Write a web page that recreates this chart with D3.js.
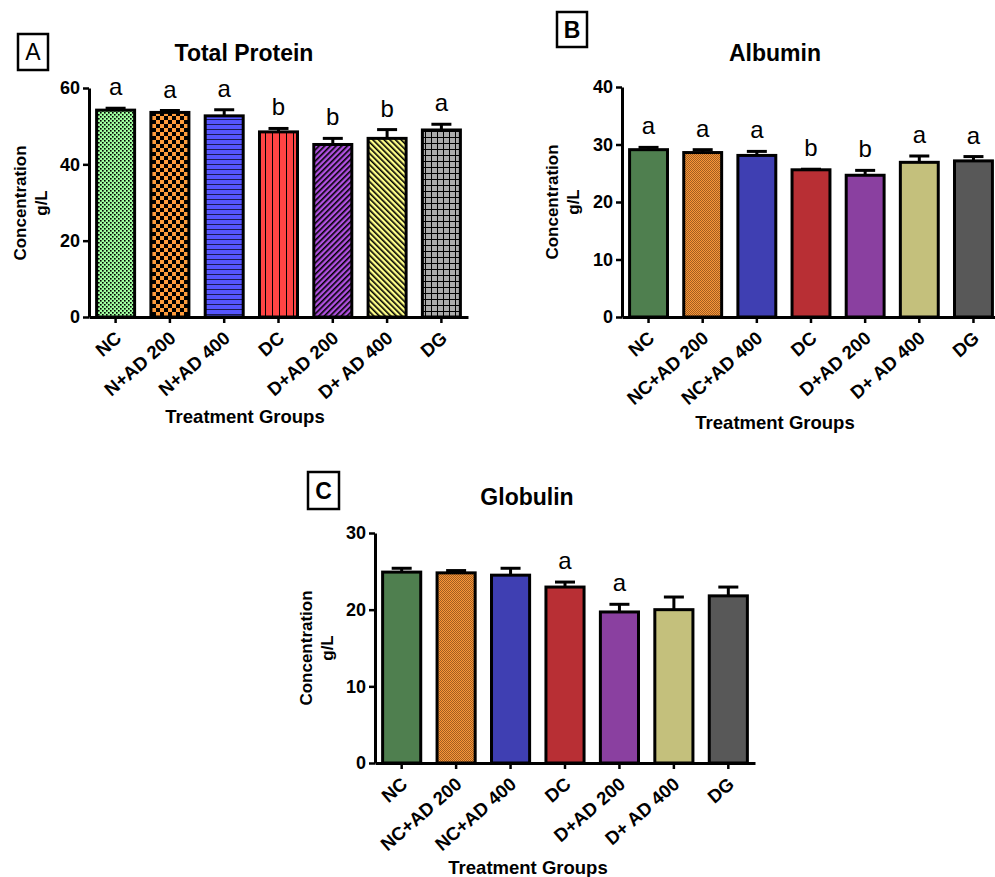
<!DOCTYPE html>
<html lang="en">
<head>
<meta charset="utf-8" />
<title>Total Protein, Albumin, Globulin</title>
<script src="https://d3js.org/d3.v7.min.js"></script>
<style>
  body { margin: 0; background: #fff; }
  text { font-family: "Liberation Sans", Arial, sans-serif; }
</style>
</head>
<body>
<div id="chart"></div>
<script>
// groups
var groupsA = ["NC", "N+AD 200", "N+AD 400", "DC", "D+AD 200", "D+ AD 400", "DG"];
var groupsBC = ["NC", "NC+AD 200", "NC+AD 400", "DC", "D+AD 200", "D+ AD 400", "DG"];

// means and SEM
var proteinMean = [54.2, 53.6, 52.7, 48.5, 45.2, 46.8, 49.0];
var proteinErr = [0.5, 0.5, 1.6, 0.9, 1.6, 2.3, 1.5];
var proteinLetters = ["a", "a", "a", "b", "b", "b", "a"];

var albuminMean = [29.1, 28.6, 28.1, 25.6, 24.65, 26.9, 27.15];
var albuminErr = [0.4, 0.5, 0.7, 0.1, 0.85, 1.1, 0.75];
var albuminLetters = ["a", "a", "a", "b", "b", "a", "a"];

var globulinMean = [24.9, 24.8, 24.5, 22.95, 19.7, 20.0, 21.8];
var globulinErr = [0.5, 0.3, 0.9, 0.65, 1.0, 1.65, 1.15];
var globulinLetters = ["", "", "", "a", "a", "", ""];

var ticksA = [0, 20, 40, 60];
var ticksB = [0, 10, 20, 30, 40];
var ticksC = [0, 10, 20, 30];

var svg = d3.select("#chart").append("svg")
    .attr("width", 995)
    .attr("height", 877);

var defs = svg.append("defs");

// hatch fills for panel A
function pat(id, w, h, bg) {
    var p = defs.append("pattern")
        .attr("id", id)
        .attr("patternUnits", "userSpaceOnUse")
        .attr("width", w)
        .attr("height", h);
    p.append("rect").attr("width", w).attr("height", h).attr("fill", bg);
    return p;
}

var p1 = pat("pGreen", 4, 4, "#a0ffa0");
p1.append("rect").attr("width", 1.6).attr("height", 1.6).attr("fill", "#000");
p1.append("rect").attr("x", 2).attr("y", 2).attr("width", 1.6).attr("height", 1.6).attr("fill", "#000");

var p2 = pat("pOrange", 8, 8, "#ff9c3c");
p2.append("rect").attr("width", 4).attr("height", 4).attr("fill", "#000");
p2.append("rect").attr("x", 4).attr("y", 4).attr("width", 4).attr("height", 4).attr("fill", "#000");

var p3 = pat("pBlue", 5, 5, "#5555ff");
p3.append("rect").attr("y", 4).attr("width", 5).attr("height", 1).attr("fill", "#1a1a55");

var p4 = pat("pRed", 7, 7, "#ff4444");
p4.append("rect").attr("x", 6).attr("width", 1).attr("height", 7).attr("fill", "#000");

var p5 = pat("pPurple", 4, 4, "#b050e0").attr("patternTransform", "rotate(45)");
p5.append("rect").attr("width", 1.6).attr("height", 4).attr("fill", "#000");

var p6 = pat("pYellow", 4, 4, "#ffff88").attr("patternTransform", "rotate(-45)");
p6.append("rect").attr("width", 1.6).attr("height", 4).attr("fill", "#000");

var p7 = pat("pGray", 6, 6, "#aaaaaa");
p7.append("rect").attr("y", 5).attr("width", 6).attr("height", 1).attr("fill", "#000");
p7.append("rect").attr("x", 5).attr("width", 1).attr("height", 6).attr("fill", "#000");

// fine checker for the orange bar in B and C
var p8 = pat("pFine", 2, 2, "#f8963a");
p8.append("rect").attr("width", 1).attr("height", 1).attr("fill", "#3a1a00").attr("opacity", 0.45);
p8.append("rect").attr("x", 1).attr("y", 1).attr("width", 1).attr("height", 1).attr("fill", "#3a1a00").attr("opacity", 0.45);

var fillsA = ["url(#pGreen)", "url(#pOrange)", "url(#pBlue)", "url(#pRed)", "url(#pPurple)", "url(#pYellow)", "url(#pGray)"];
var fillsBC = ["#4f7f4f", "url(#pFine)", "#3f3fb2", "#b82f34", "#8a40a0", "#c4c07c", "#585858"];

function drawPanel(p) {
    var g = svg.append("g");

    var x = d3.scaleBand()
        .domain(p.groups)
        .range([p.x0, p.x1])
        .paddingInner(0.3)
        .paddingOuter(0.14);

    var y = d3.scaleLinear()
        .domain([0, p.max])
        .range([p.yBottom, p.yTop]);

    var data = p.groups.map(function (c, i) {
        return { name: c, mean: p.mean[i], err: p.err[i], letter: p.letters[i], fill: p.fills[i] };
    });

    // bars
    g.selectAll(".bar")
        .data(data)
        .enter()
        .append("rect")
        .attr("x", function (d) { return x(d.name); })
        .attr("y", function (d) { return y(d.mean); })
        .attr("width", x.bandwidth())
        .attr("height", function (d) { return y(0) - y(d.mean); })
        .attr("fill", function (d) { return d.fill; })
        .attr("stroke", "#000")
        .attr("stroke-width", 3);

    // error bars, upward only
    var eb = g.selectAll(".err")
        .data(data)
        .enter()
        .append("g");
    eb.append("line")
        .attr("x1", function (d) { return x(d.name) + x.bandwidth() / 2; })
        .attr("x2", function (d) { return x(d.name) + x.bandwidth() / 2; })
        .attr("y1", function (d) { return y(d.mean); })
        .attr("y2", function (d) { return y(d.mean + d.err); })
        .attr("stroke", "#000")
        .attr("stroke-width", 3);
    eb.append("line")
        .attr("x1", function (d) { return x(d.name) + x.bandwidth() / 2 - 10; })
        .attr("x2", function (d) { return x(d.name) + x.bandwidth() / 2 + 10; })
        .attr("y1", function (d) { return y(d.mean + d.err); })
        .attr("y2", function (d) { return y(d.mean + d.err); })
        .attr("stroke", "#000")
        .attr("stroke-width", 3);

    // significance letters
    g.selectAll(".letter")
        .data(data)
        .enter()
        .append("text")
        .attr("x", function (d) { return x(d.name) + x.bandwidth() / 2; })
        .attr("y", function (d) { return y(d.mean + d.err) - 13; })
        .attr("text-anchor", "middle")
        .style("font-size", "24px")
        .text(function (d) { return d.letter; });

    // y axis
    var ya = g.append("g")
        .attr("transform", "translate(" + p.x0 + ",0)")
        .call(d3.axisLeft(y).tickValues(p.ticks).tickSize(6).tickSizeOuter(0).tickPadding(3));
    ya.select(".domain").attr("stroke-width", 3);
    ya.selectAll(".tick line").attr("stroke-width", 2.5);
    ya.selectAll("text")
        .style("font-size", "18px")
        .style("font-weight", "bold")
        .style("font-family", "'Liberation Sans', Arial, sans-serif")
        .attr("fill", "#000");

    // x axis
    var xa = g.append("g")
        .attr("transform", "translate(0," + p.yBottom + ")")
        .call(d3.axisBottom(x).tickSize(6).tickSizeOuter(0));
    xa.select(".domain").attr("stroke-width", 3);
    xa.selectAll(".tick line").attr("stroke-width", 2.5);
    xa.selectAll("text")
        .attr("x", 0)
        .attr("y", 0)
        .attr("dy", 0)
        .attr("transform", "translate(7,23) rotate(-41)")
        .style("text-anchor", "end")
        .style("font-size", "18.5px")
        .style("font-weight", "bold")
        .style("font-family", "'Liberation Sans', Arial, sans-serif")
        .attr("fill", "#000");

    // title
    g.append("text")
        .attr("x", p.titleX)
        .attr("y", p.titleY)
        .attr("text-anchor", "middle")
        .style("font-size", "23px")
        .style("font-weight", "bold")
        .text(p.title);

    // y axis title, two lines
    g.append("text")
        .attr("transform", "translate(" + p.ylabX + "," + p.ylabY + ") rotate(-90)")
        .attr("text-anchor", "middle")
        .style("font-size", "17px")
        .style("font-weight", "bold")
        .text("Concentration");
    g.append("text")
        .attr("transform", "translate(" + (p.ylabX + 21) + "," + p.ylabY + ") rotate(-90)")
        .attr("text-anchor", "middle")
        .style("font-size", "17px")
        .style("font-weight", "bold")
        .text("g/L");

    // x axis title
    g.append("text")
        .attr("x", p.xlabX)
        .attr("y", p.xlabY)
        .attr("text-anchor", "middle")
        .style("font-size", "18.5px")
        .style("font-weight", "bold")
        .text("Treatment Groups");

    // panel letter in a box
    g.append("rect")
        .attr("x", p.box[0])
        .attr("y", p.box[1])
        .attr("width", p.box[2])
        .attr("height", p.box[3])
        .attr("fill", "none")
        .attr("stroke", "#000")
        .attr("stroke-width", 2.5);
    g.append("text")
        .attr("x", p.box[0] + p.box[2] / 2)
        .attr("y", p.box[1] + p.box[3] / 2 + 8)
        .attr("text-anchor", "middle")
        .style("font-size", "23px")
        .style("font-weight", p.boxBold ? "bold" : "normal")
        .text(p.boxLabel);
}

drawPanel({
    groups: groupsA, mean: proteinMean, err: proteinErr, letters: proteinLetters, fills: fillsA,
    max: 60, ticks: ticksA,
    x0: 89, x1: 468, yTop: 88, yBottom: 317,
    title: "Total Protein", titleX: 244, titleY: 61,
    ylabX: 26, ylabY: 203, xlabX: 245, xlabY: 423,
    box: [18, 34, 30, 36], boxLabel: "A", boxBold: false
});

drawPanel({
    groups: groupsBC, mean: albuminMean, err: albuminErr, letters: albuminLetters, fills: fillsBC,
    max: 40, ticks: ticksB,
    x0: 622, x1: 1000, yTop: 87, yBottom: 317,
    title: "Albumin", titleX: 775, titleY: 61,
    ylabX: 558, ylabY: 202, xlabX: 775, xlabY: 429,
    box: [557, 12, 30, 35], boxLabel: "B", boxBold: true
});

drawPanel({
    groups: groupsBC, mean: globulinMean, err: globulinErr, letters: globulinLetters, fills: fillsBC,
    max: 30, ticks: ticksC,
    x0: 375, x1: 755, yTop: 533, yBottom: 763,
    title: "Globulin", titleX: 527, titleY: 505,
    ylabX: 312, ylabY: 648, xlabX: 528, xlabY: 874,
    box: [308, 472, 31, 37], boxLabel: "C", boxBold: true
});
</script>
</body>
</html>
